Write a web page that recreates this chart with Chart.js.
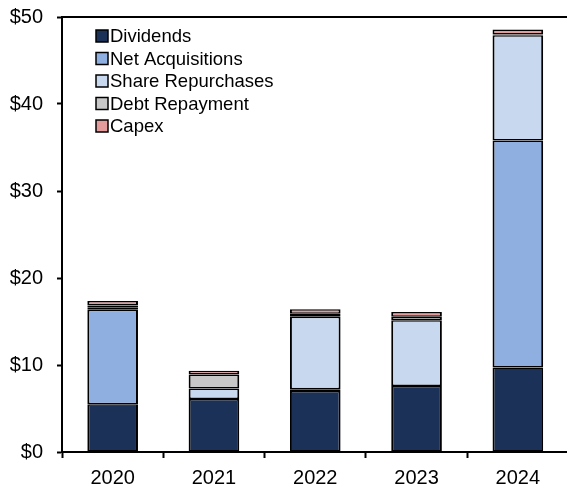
<!DOCTYPE html>
<html>
<head>
<meta charset="utf-8">
<script src="https://cdn.jsdelivr.net/npm/chart.js@4/dist/chart.umd.min.js"></script>
<style>
  html, body { margin: 0; padding: 0; background: #fff; overflow: hidden; }
  #wrap { width: 572px; height: 489px; position: relative; }
</style>
</head>
<body>
<div id="wrap"><canvas id="c"></canvas></div>
<script>
// Uses of cash by year, $ billions
const years = ['2020', '2021', '2022', '2023', '2024'];
const dividends        = [5.5, 6.1, 7.0, 7.6, 9.7];
const netAcquisitions  = [10.85, 0, 0.2, 0, 26.1];
const shareRepurchases = [0.3, 1.2, 8.35, 7.55, 12.1];
const debtRepayment    = [0.2, 1.6, 0.35, 0.4, 0.1];
const capex            = [0.5, 0.45, 0.5, 0.55, 0.55];
const yTicks = [0, 10, 20, 30, 40, 50];

const FONT = 'Liberation Sans, Arial, sans-serif';

function series(label, data, color) {
  return {
    label, data,
    backgroundColor: color,
    borderColor: '#000',
    // slightly thinner horizontal edges so stacked boundaries read as one line
    borderWidth: { top: 1.5, bottom: 1.5, left: 2, right: 2 },
    borderSkipped: false,
    barPercentage: 0.5,
    categoryPercentage: 1.0
  };
}

// Legend drawn inside the plot, top-left, as a vertical list
const insideLegend = {
  id: 'insideLegend',
  afterDraw(chart) {
    const ctx = chart.ctx;
    const x0 = 96, y0 = 36, step = 22.5, box = 12;
    ctx.save();
    ctx.font = '18.5px ' + FONT;
    ctx.textBaseline = 'middle';
    chart.data.datasets.forEach((ds, i) => {
      const y = y0 + i * step;
      ctx.fillStyle = ds.backgroundColor;
      ctx.fillRect(x0, y - box / 2, box, box);
      ctx.lineWidth = 1.5;
      ctx.strokeStyle = '#000';
      ctx.strokeRect(x0, y - box / 2, box, box);
      ctx.fillStyle = '#000';
      ctx.fillText(ds.label, x0 + box + 2, y + 1);
    });
    ctx.restore();
  }
};

// Top frame line of the plot area
const topFrame = {
  id: 'topFrame',
  afterDraw(chart) {
    const { ctx, chartArea } = chart;
    ctx.save();
    ctx.strokeStyle = '#000';
    ctx.lineWidth = 2;
    ctx.beginPath();
    ctx.moveTo(chartArea.left - 1, chartArea.top);
    ctx.lineTo(chartArea.right, chartArea.top);
    ctx.stroke();
    ctx.restore();
  }
};

new Chart(document.getElementById('c'), {
  type: 'bar',
  data: {
    labels: years,
    datasets: [
      series('Dividends', dividends, '#1b3158'),
      series('Net Acquisitions', netAcquisitions, '#8fafe0'),
      series('Share Repurchases', shareRepurchases, '#c7d8ef'),
      series('Debt Repayment', debtRepayment, '#c8c8c8'),
      series('Capex', capex, '#e39b9b')
    ]
  },
  options: {
    responsive: true,
    maintainAspectRatio: false,
    animation: false,
    layout: { padding: { top: 17, right: 3.5, left: 0, bottom: 0 } },
    plugins: {
      legend: { display: false },
      tooltip: { enabled: false }
    },
    scales: {
      x: {
        stacked: true,
        afterFit(scale) { scale.height = 37; scale.paddingLeft = 0; scale.paddingRight = 0; },
        grid: {
          display: true,
          drawOnChartArea: false,
          drawTicks: true,
          tickLength: 6,
          tickWidth: 2,
          color: '#000',
          offset: true
        },
        border: { display: true, color: '#000', width: 2 },
        ticks: {
          color: '#000',
          font: { family: FONT, size: 20 },
          padding: 8,
          maxRotation: 0
        }
      },
      y: {
        stacked: true,
        min: 0,
        max: 50,
        afterFit(scale) { scale.width = 62; scale.paddingTop = 0; scale.paddingBottom = 0; },
        afterBuildTicks(scale) { scale.ticks = yTicks.map(v => ({ value: v })); },
        grid: {
          display: true,
          drawOnChartArea: false,
          drawTicks: true,
          tickLength: 5,
          tickWidth: 2,
          color: '#000'
        },
        border: { display: true, color: '#000', width: 2 },
        ticks: {
          color: '#000',
          font: { family: FONT, size: 20 },
          padding: 14,
          callback: v => '$' + v
        }
      }
    }
  },
  plugins: [topFrame, insideLegend]
});
</script>
</body>
</html>
